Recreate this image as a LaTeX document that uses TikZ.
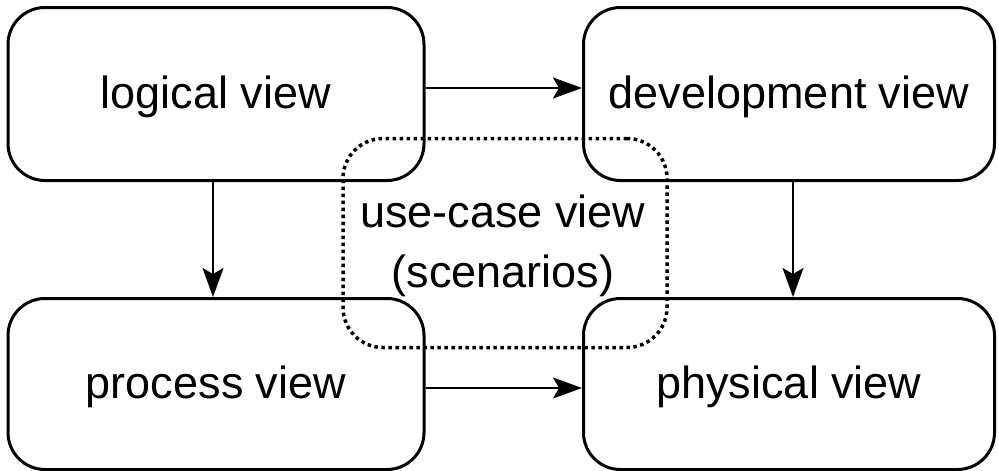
\documentclass[tikz,border=0pt]{standalone}
\usepackage{fontspec}
\setmainfont{Liberation Sans}
\usetikzlibrary{arrows.meta}

\begin{document}
\begin{tikzpicture}[x=1pt, y=-1pt,
		view_style/.style={rectangle,rounded corners=37pt,draw=black,line width=3pt,minimum width=416pt,minimum height=173pt,inner sep=0pt,text height=32pt,text depth=4pt,font=\fontsize{45}{54}\selectfont},
		scenario_style/.style={rectangle,rounded corners=40pt,draw=black,line width=3.5pt,dash pattern=on 3.5pt off 3.5pt,minimum width=324pt,minimum height=209pt,align=center,font=\fontsize{45}{60}\selectfont},
		edge_style/.style={draw=black,line width=2.2pt,-{Stealth[length=29pt,width=21pt,inset=6pt]}}]

		\useasboundingbox (0,0) rectangle (999,471);

		\node[view_style] (n0) at (216,94)  {logical view};
		\node[view_style,minimum width=411pt] (n1) at (789,94)  {development view};
		\node[view_style,minimum height=171pt] (n2) at (216,384)  {process view};
		\node[view_style,minimum width=411pt,minimum height=171pt] (n3) at (789,384)  {physical view};
		\node[scenario_style] (n4) at (505,243)  {};
		\node[align=center,font=\fontsize{45}{60}\selectfont] (n5) at (503,246)  {use-case view\\(scenarios)};

		\draw[edge_style]  ([yshift=6pt]n0.east) -- ([yshift=6pt]n1.west);
		\draw[edge_style]  ([yshift=-4pt]n2.east) -- ([yshift=-4pt]n3.west);
		\draw[edge_style]  ([xshift=-3pt]n0.south) -- ([xshift=-3pt]n2.north);
		\draw[edge_style]  ([xshift=4pt]n1.south) -- ([xshift=4pt]n3.north);
		\end{tikzpicture}
\end{document}
